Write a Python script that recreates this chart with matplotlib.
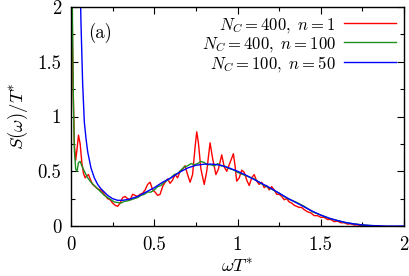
import numpy as np
import matplotlib
matplotlib.use("Agg")
import matplotlib.pyplot as plt
from matplotlib.ticker import MultipleLocator

plt.rcParams['font.family'] = 'serif'
plt.rcParams['font.serif'] = ['cmr10']
plt.rcParams['mathtext.fontset'] = 'cm'
plt.rcParams['axes.formatter.use_mathtext'] = True

# N_C = 400, n = 1 (red)
red_x = [0.004, 0.012, 0.02, 0.028, 0.036, 0.045, 0.055, 0.065, 0.075, 0.085, 0.095, 0.105,
         0.115, 0.13, 0.145, 0.16, 0.175, 0.19, 0.205, 0.22, 0.235, 0.25, 0.265, 0.28, 0.295,
         0.31, 0.325, 0.34, 0.355, 0.37, 0.385, 0.40, 0.415, 0.43, 0.445, 0.46, 0.475, 0.49,
         0.505, 0.52, 0.535, 0.55, 0.565, 0.58, 0.595, 0.61, 0.625, 0.64, 0.655, 0.67, 0.685,
         0.70, 0.715, 0.73, 0.745, 0.755, 0.765, 0.78, 0.80, 0.815, 0.835, 0.85, 0.87, 0.885,
         0.905, 0.92, 0.935, 0.95, 0.965, 0.975, 0.985, 0.995, 1.01, 1.025, 1.04, 1.055, 1.07,
         1.085, 1.10, 1.115, 1.13, 1.145, 1.16, 1.175, 1.19, 1.205, 1.22, 1.235, 1.25, 1.265,
         1.28, 1.295, 1.31, 1.325, 1.34, 1.355, 1.37, 1.385, 1.40, 1.42, 1.44, 1.46, 1.48,
         1.50, 1.52, 1.54, 1.56, 1.58, 1.60, 1.62, 1.64, 1.66, 1.68, 1.70, 1.72, 1.74, 1.76,
         1.80, 1.85]
red_y = [2.3, 1.3, 0.75, 0.6, 0.7, 0.83, 0.75, 0.58, 0.48, 0.44, 0.46, 0.47,
         0.43, 0.38, 0.36, 0.34, 0.33, 0.31, 0.28, 0.25, 0.24, 0.21, 0.19, 0.18, 0.21,
         0.26, 0.27, 0.25, 0.24, 0.29, 0.28, 0.27, 0.29, 0.30, 0.33, 0.38, 0.40, 0.33,
         0.31, 0.28, 0.29, 0.36, 0.40, 0.43, 0.39, 0.42, 0.47, 0.44, 0.50, 0.52, 0.55,
         0.47, 0.40, 0.47, 0.72, 0.86, 0.76, 0.52, 0.38, 0.50, 0.76, 0.62, 0.47, 0.52,
         0.65, 0.54, 0.50, 0.56, 0.62, 0.66, 0.55, 0.41, 0.44, 0.51, 0.49, 0.42, 0.37,
         0.44, 0.47, 0.41, 0.38, 0.40, 0.35, 0.37, 0.33, 0.36, 0.33, 0.29, 0.29, 0.27,
         0.24, 0.25, 0.22, 0.21, 0.19, 0.18, 0.17, 0.17, 0.15, 0.13, 0.12, 0.095, 0.095,
         0.08, 0.08, 0.06, 0.06, 0.04, 0.045, 0.03, 0.03, 0.018, 0.02, 0.01, 0.01, 0.004,
         0.005, 0.0, 0.0]

# N_C = 400, n = 100 (green)
green_x = [0.002, 0.008, 0.014, 0.02, 0.028, 0.036, 0.045, 0.055, 0.065, 0.08, 0.10, 0.12,
           0.14, 0.16, 0.18, 0.20, 0.22, 0.24, 0.26, 0.28, 0.30, 0.32, 0.34, 0.36, 0.38,
           0.40, 0.42, 0.44, 0.46, 0.48, 0.50, 0.52, 0.54, 0.56, 0.58, 0.60, 0.62, 0.64,
           0.66, 0.68, 0.70, 0.72, 0.74, 0.76, 0.78, 0.80, 0.82, 0.84, 0.86, 0.88, 0.90,
           0.92, 0.94, 0.96, 0.98, 1.00, 1.05, 1.10, 1.15, 1.20, 1.25, 1.30, 1.35, 1.40,
           1.45, 1.50, 1.55, 1.60, 1.65, 1.70, 1.75, 1.80, 1.85]
green_y = [2.6, 2.0, 1.2, 0.7, 0.52, 0.50, 0.58, 0.59, 0.55, 0.50, 0.44, 0.40,
           0.37, 0.34, 0.31, 0.28, 0.26, 0.24, 0.22, 0.215, 0.21, 0.225, 0.23, 0.24, 0.25,
           0.26, 0.28, 0.29, 0.31, 0.31, 0.33, 0.36, 0.37, 0.40, 0.42, 0.44, 0.47, 0.48,
           0.51, 0.54, 0.55, 0.57, 0.56, 0.57, 0.59, 0.58, 0.56, 0.56, 0.55, 0.57, 0.55,
           0.55, 0.53, 0.52, 0.51, 0.49, 0.46, 0.43, 0.38, 0.34, 0.30, 0.25, 0.22, 0.18,
           0.13, 0.10, 0.07, 0.05, 0.03, 0.02, 0.01, 0.004, 0.0]

# N_C = 100, n = 50 (blue)
blue_x = [0.04, 0.05, 0.06, 0.07, 0.08, 0.09, 0.10, 0.12, 0.14, 0.16, 0.18, 0.20, 0.22,
          0.25, 0.28, 0.31, 0.35, 0.40, 0.45, 0.50, 0.55, 0.60, 0.65, 0.70, 0.75, 0.80,
          0.85, 0.90, 0.95, 1.00, 1.05, 1.10, 1.15, 1.20, 1.25, 1.30, 1.35, 1.40, 1.45,
          1.50, 1.55, 1.60, 1.65, 1.70, 1.75, 1.80, 1.85, 1.90, 2.0]
blue_y = [3.0, 2.6, 1.85, 1.3, 0.95, 0.80, 0.68, 0.53, 0.44, 0.38, 0.34, 0.31, 0.28,
          0.25, 0.235, 0.235, 0.245, 0.27, 0.31, 0.35, 0.40, 0.44, 0.49, 0.53, 0.555, 0.565,
          0.565, 0.555, 0.53, 0.50, 0.465, 0.425, 0.385, 0.345, 0.30, 0.255, 0.215, 0.175, 0.135,
          0.10, 0.072, 0.05, 0.032, 0.019, 0.01, 0.005, 0.002, 0.0, 0.0]

labels = [r'$N_C = 400,\ n = 1$', r'$N_C = 400,\ n = 100$', r'$N_C = 100,\ n = 50$']

fig = plt.figure(figsize=(4.09, 2.76), dpi=100)
ax = fig.add_axes([0.1736, 0.181, 0.8144, 0.7936])

ax.plot(red_x, red_y, color='#ff0000', lw=1.0, label=labels[0])
ax.plot(green_x, green_y, color='#1f8f1f', lw=1.0, label=labels[1])
ax.plot(blue_x, blue_y, color='#0000ff', lw=1.0, label=labels[2])

fs = 13.5
ax.set_xlim(0, 2)
ax.set_ylim(0, 2)
ax.xaxis.set_minor_locator(MultipleLocator(0.25))
ax.yaxis.set_minor_locator(MultipleLocator(0.25))
ax.set_xticks([0, 0.5, 1, 1.5, 2], ['0', '0.5', '1', '1.5', '2'])
ax.set_yticks([0, 0.5, 1, 1.5, 2], ['0', '0.5', '1', '1.5', '2'])
ax.tick_params(which='both', direction='in', top=True, right=True, labelsize=fs)
ax.tick_params(which='major', length=5, width=0.8, pad=7)
ax.tick_params(which='minor', length=3, width=0.8)
for s in ax.spines.values():
    s.set_linewidth(1.0)

ax.set_xlabel(r'$\omega T^{*}$', fontsize=fs, labelpad=3)
ax.set_ylabel(r'$S(\omega)/T^{*}$', fontsize=fs, labelpad=5)
ax.text(0.05, 0.88, '(a)', transform=ax.transAxes, fontsize=fs, va='center', ha='left')

ax.legend(loc='upper right', bbox_to_anchor=(0.975, 0.96), markerfirst=False, frameon=False,
          fontsize=12, handlelength=3.1, handletextpad=0.5, labelspacing=0.0,
          borderaxespad=0.0, borderpad=0.0)

fig.savefig('out.png', dpi=100)
